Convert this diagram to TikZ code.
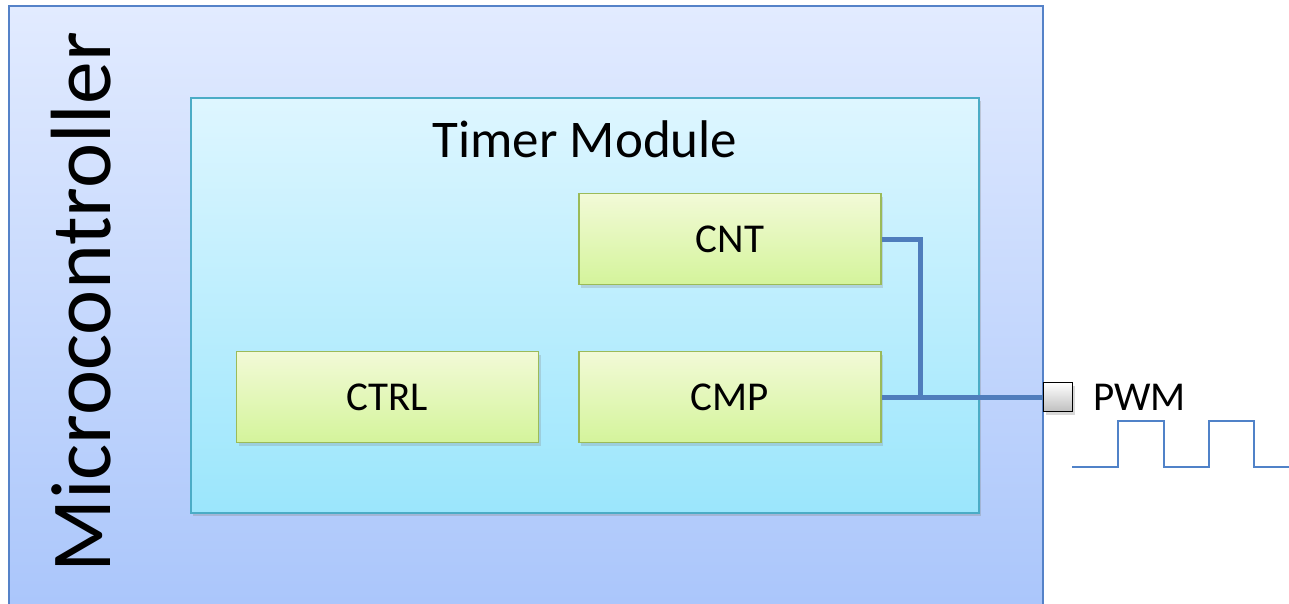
\documentclass[tikz,border=0pt]{standalone}
\usepackage{fontspec}
\setmainfont{Carlito}
\usetikzlibrary{shadows}
\definecolor{outerTop}{RGB}{226,235,255}
\definecolor{outerBot}{RGB}{163,193,250}
\definecolor{outerLine}{RGB}{85,130,200}
\definecolor{innerTop}{RGB}{222,246,255}
\definecolor{innerBot}{RGB}{155,230,252}
\definecolor{innerLine}{RGB}{75,172,198}
\definecolor{blkTop}{RGB}{242,250,215}
\definecolor{blkBot}{RGB}{212,244,155}
\definecolor{blkLine}{RGB}{155,187,89}
\definecolor{wire}{RGB}{79,125,188}
\definecolor{wave}{RGB}{80,130,200}
\tikzset{
  blk/.style={draw=blkLine, line width=1.2pt, top color=blkTop, bottom color=blkBot,
    minimum width=302pt, minimum height=91pt, inner sep=0pt,
    font=\fontsize{41}{41}\selectfont,
    drop shadow={shadow xshift=2pt, shadow yshift=-3pt, opacity=0.25}},
  wirestyle/.style={draw=wire, line width=5pt},
}
\begin{document}
\begin{tikzpicture}[x=1pt,y=-1pt]
\clip (0,0) rectangle (1289,604);
\fill[white] (0,0) rectangle (1289,604);
% outer microcontroller box
\node[draw=outerLine, line width=1.5pt, top color=outerTop, bottom color=outerBot,
  minimum width=1034pt, minimum height=680pt, inner sep=0pt] (mcu) at (526,346) {};
\node[rotate=90, anchor=base, font=\fontsize{85.5}{85.5}\selectfont, inner sep=0pt] (mcutxt) at (110,302.5) {Microcontroller};
% timer module
\node[draw=innerLine, line width=1.5pt, top color=innerTop, bottom color=innerBot,
  minimum width=788pt, minimum height=415pt, inner sep=0pt,
  drop shadow={shadow xshift=2pt, shadow yshift=-3pt, opacity=0.3}] (tm) at (585,305.5) {};
\node[anchor=base, font=\fontsize{53}{53}\selectfont, inner sep=0pt] (tmtxt) at (585,158) {Timer Module};
% blocks
\node[blk] (cnt) at (730,239) {CNT};
\node[blk] (ctrl) at (387.5,397) {CTRL};
\node[blk] (cmp) at (730,397) {CMP};
% pin
\node[draw=black, line width=1.5pt, top color=white, bottom color=black!25,
  minimum size=29pt, inner sep=0pt,
  drop shadow={shadow xshift=2pt, shadow yshift=-3pt, opacity=0.3}] (pin) at (1058,397) {};
\node[anchor=base west, font=\fontsize{41}{41}\selectfont, inner sep=0pt] (pwm) at (1093,410) {PWM};
% wires
\coordinate (j1) at (920,239);
\coordinate (j2) at (920,397);
\draw[wirestyle] (cnt.east) -- (j1) -- (j2);
\draw[wirestyle] (cmp.east) -- (pin.west);
% waveform
\draw[wave, line width=1.8pt] (1072,467) -- (1118,467) -- (1118,421) -- (1164,421) -- (1164,467)
  -- (1209,467) -- (1209,421) -- (1254,421) -- (1254,467) -- (1292,467);
\end{tikzpicture}
\end{document}
